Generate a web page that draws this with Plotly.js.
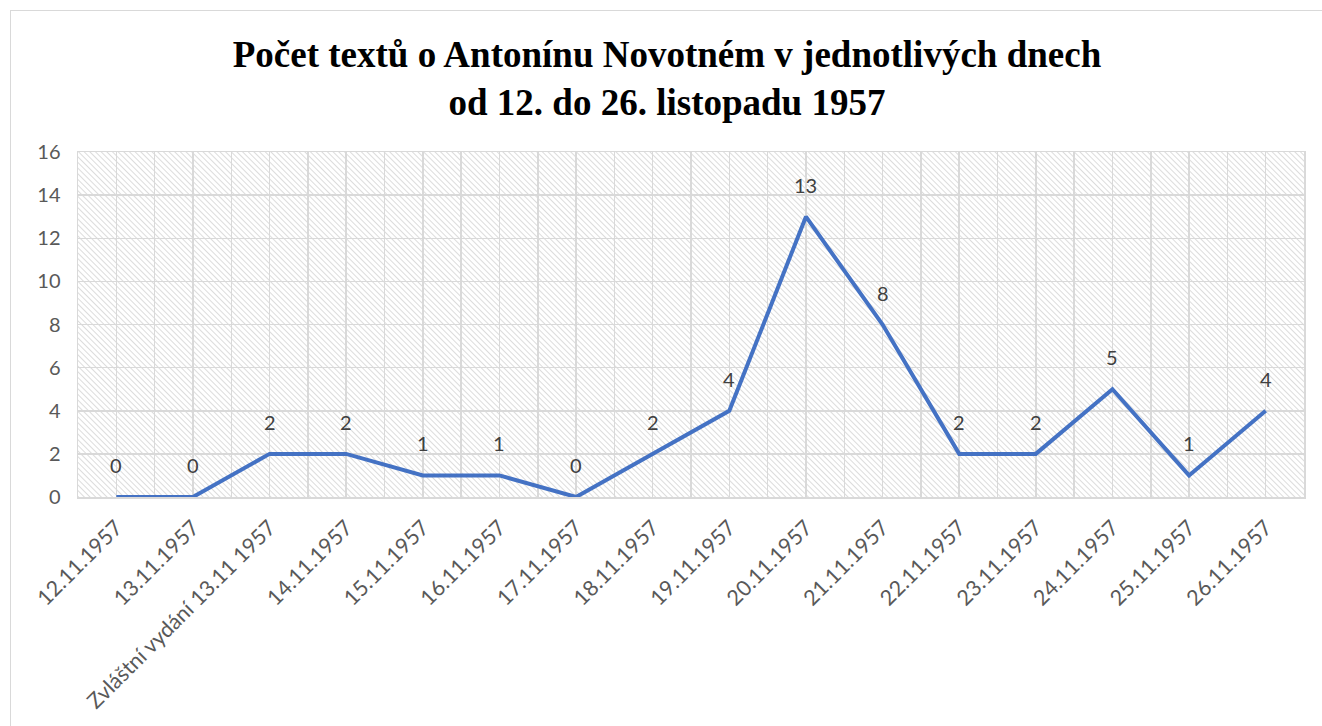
<!DOCTYPE html>
<html>
<head>
<meta charset="utf-8">
<script src="https://cdn.plot.ly/plotly-3.0.1.min.js"></script>
<style>
html,body{margin:0;padding:0;background:#fff;overflow:hidden;width:1322px;height:726px;}
#chart{position:absolute;left:10px;top:10px;width:1312px;height:716px;border-left:1px solid #d9d9d9;border-top:1px solid #d9d9d9;box-sizing:border-box;}
</style>
</head>
<body>
<div id="chart"></div>
<script>
const categories = ["12.11.1957","13.11.1957","Zvláštní vydání 13.11 1957","14.11.1957","15.11.1957","16.11.1957","17.11.1957","18.11.1957","19.11.1957","20.11.1957","21.11.1957","22.11.1957","23.11.1957","24.11.1957","25.11.1957","26.11.1957"];
const counts = [0,0,2,2,1,1,0,2,4,13,8,2,2,5,1,4];
const titleText = "Počet textů o Antonínu Novotném v jednotlivých dnech<br>od 12. do 26. listopadu 1957";

const xs = categories.map((c,i)=>i);

const hatch = 'data:image/svg+xml;utf8,' + encodeURIComponent(
 '<svg xmlns="http://www.w3.org/2000/svg" width="1226" height="345">' +
 '<defs><pattern id="p" width="4" height="4" patternUnits="userSpaceOnUse" patternTransform="rotate(-45)">' +
 '<line x1="0" y1="0" x2="0" y2="4" stroke="#c9c9c9" stroke-width="1.3"/></pattern></defs>' +
 '<rect width="1226" height="345" fill="url(#p)"/></svg>');

const trace = {
  x: xs, y: counts, type:'scatter', mode:'lines',
  line:{color:'#4472C4', width:4}, hoverinfo:'skip'
};

const annotations = counts.map((v,i)=>({
  x:i, y:v, xref:'x', yref:'y', text:String(v), showarrow:false,
  yshift:32, font:{family:'Lato, Open Sans, sans-serif', size:20, color:'#404040'}
}));

const layout = {
  width:1312, height:716,
  margin:{l:67, r:19, t:141, b:230},
  paper_bgcolor:'rgba(0,0,0,0)', plot_bgcolor:'rgba(0,0,0,0)',
  showlegend:false,
  title:{text:titleText, x:0.5, xanchor:'center', yref:'container', y:0.922, yanchor:'top',
    font:{family:'Liberation Serif, Times New Roman, serif', size:37, color:'#000', weight:'bold'}},
  xaxis:{
    type:'linear', range:[-0.5,15.5], tickmode:'array', tickvals:xs, ticktext:categories,
    tickangle:-45, showgrid:true, gridcolor:'#d9d9d9', gridwidth:1.5,
    zeroline:false, showline:true, mirror:true, linecolor:'#d9d9d9', linewidth:1.5,
    ticks:'outside', ticklen:8, tickcolor:'rgba(0,0,0,0)',
    tickfont:{family:'Lato, Open Sans, sans-serif', size:21.5, color:'#595959'},
    minor:{tickmode:'linear', tick0:-0.5, dtick:1, showgrid:true, gridcolor:'#d9d9d9', gridwidth:1.5, ticks:''},
    fixedrange:true
  },
  yaxis:{
    range:[0,16], dtick:2, tick0:0, showgrid:true, gridcolor:'#d9d9d9', gridwidth:1.5,
    zeroline:false, showline:true, mirror:true, linecolor:'#d9d9d9', linewidth:1.5,
    ticks:'outside', ticklen:12, tickcolor:'rgba(0,0,0,0)',
    tickfont:{family:'Lato, Open Sans, sans-serif', size:20, color:'#595959'},
    fixedrange:true
  },
  images:[{source:hatch, xref:'paper', yref:'paper', x:0, y:1, sizex:1, sizey:1,
    sizing:'stretch', layer:'below', xanchor:'left', yanchor:'top'}],
  annotations:annotations
};

Plotly.newPlot('chart',[trace],layout,{displayModeBar:false, staticPlot:true});
</script>
</body>
</html>
